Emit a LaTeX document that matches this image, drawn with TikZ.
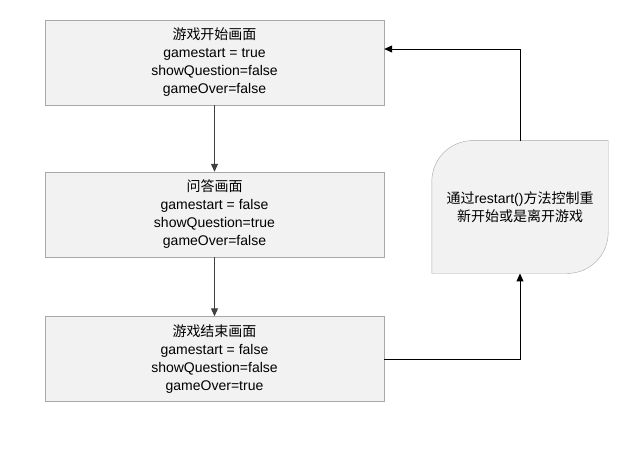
\documentclass[tikz,border=0pt]{standalone}
\usepackage{fontspec}
\setmainfont{Liberation Sans}
\newfontfamily\cjk{Noto Sans CJK SC}
\usetikzlibrary{arrows.meta,backgrounds}
\usepackage{xcolor}
\definecolor{boxfill}{HTML}{F2F2F2}
\definecolor{boxline}{HTML}{A8A8A8}

\begin{document}
\begin{tikzpicture}[x=1pt, y=-1pt, >={Triangle[length=8pt,width=7pt]},
every node/.style={
    rectangle,
    inner sep=3pt,
    align=center,
    font=\fontsize{14}{18}\selectfont
},
screen/.style={
    draw=boxline,
    fill=boxfill,
    minimum width=339pt,
    minimum height=85pt
}]
    \useasboundingbox (0, 0) rectangle (641, 451);
    \node (start_screen) [screen, shift={(214.5, 62.5)}]
    {
        {\cjk 游戏开始画面}\\
        gamestart = true\\
        showQuestion=false\\
        gameOver=false
    };
    \node (question_screen) [screen, shift={(214.5, 214.5)}]
    {
        {\cjk 问答画面}\\
        gamestart = false\\
        showQuestion=true\\
        gameOver=false
    };
    \node (over_screen) [screen, shift={(214.5, 359)}]
    {
        {\cjk 游戏结束画面}\\
        gamestart = false\\
        showQuestion=false\\
        gameOver=true
    };
    \node (restart) [minimum width=176pt, minimum height=132.5pt, shift={(520, 207)}]
    {
        {\cjk 通过}restart(){\cjk 方法控制重}\\
        {\cjk 新开始或是离开游戏}
    };
    % rounded top left and bottom right corners
    \begin{scope}[on background layer]
        \draw[draw=boxline, fill=boxfill] (restart.south west)
            -- ([yshift=-41pt]restart.north west)
            arc[start angle=180, end angle=90, radius=41pt]
            -- (restart.north east)
            -- ([yshift=41pt]restart.south east)
            arc[start angle=0, end angle=-90, radius=41pt]
            -- cycle;
    \end{scope}
    \draw[->, black!75, line width=1.1pt] (start_screen) to (question_screen);
    \draw[->, black!75, line width=1.1pt] (question_screen) to (over_screen);
    \draw[->, black, line width=1pt] (over_screen.east) -| (restart.south);
    \draw[->, black, line width=1pt] (restart.north) |- ([yshift=13.5pt]start_screen.east);
\end{tikzpicture}
\end{document}
